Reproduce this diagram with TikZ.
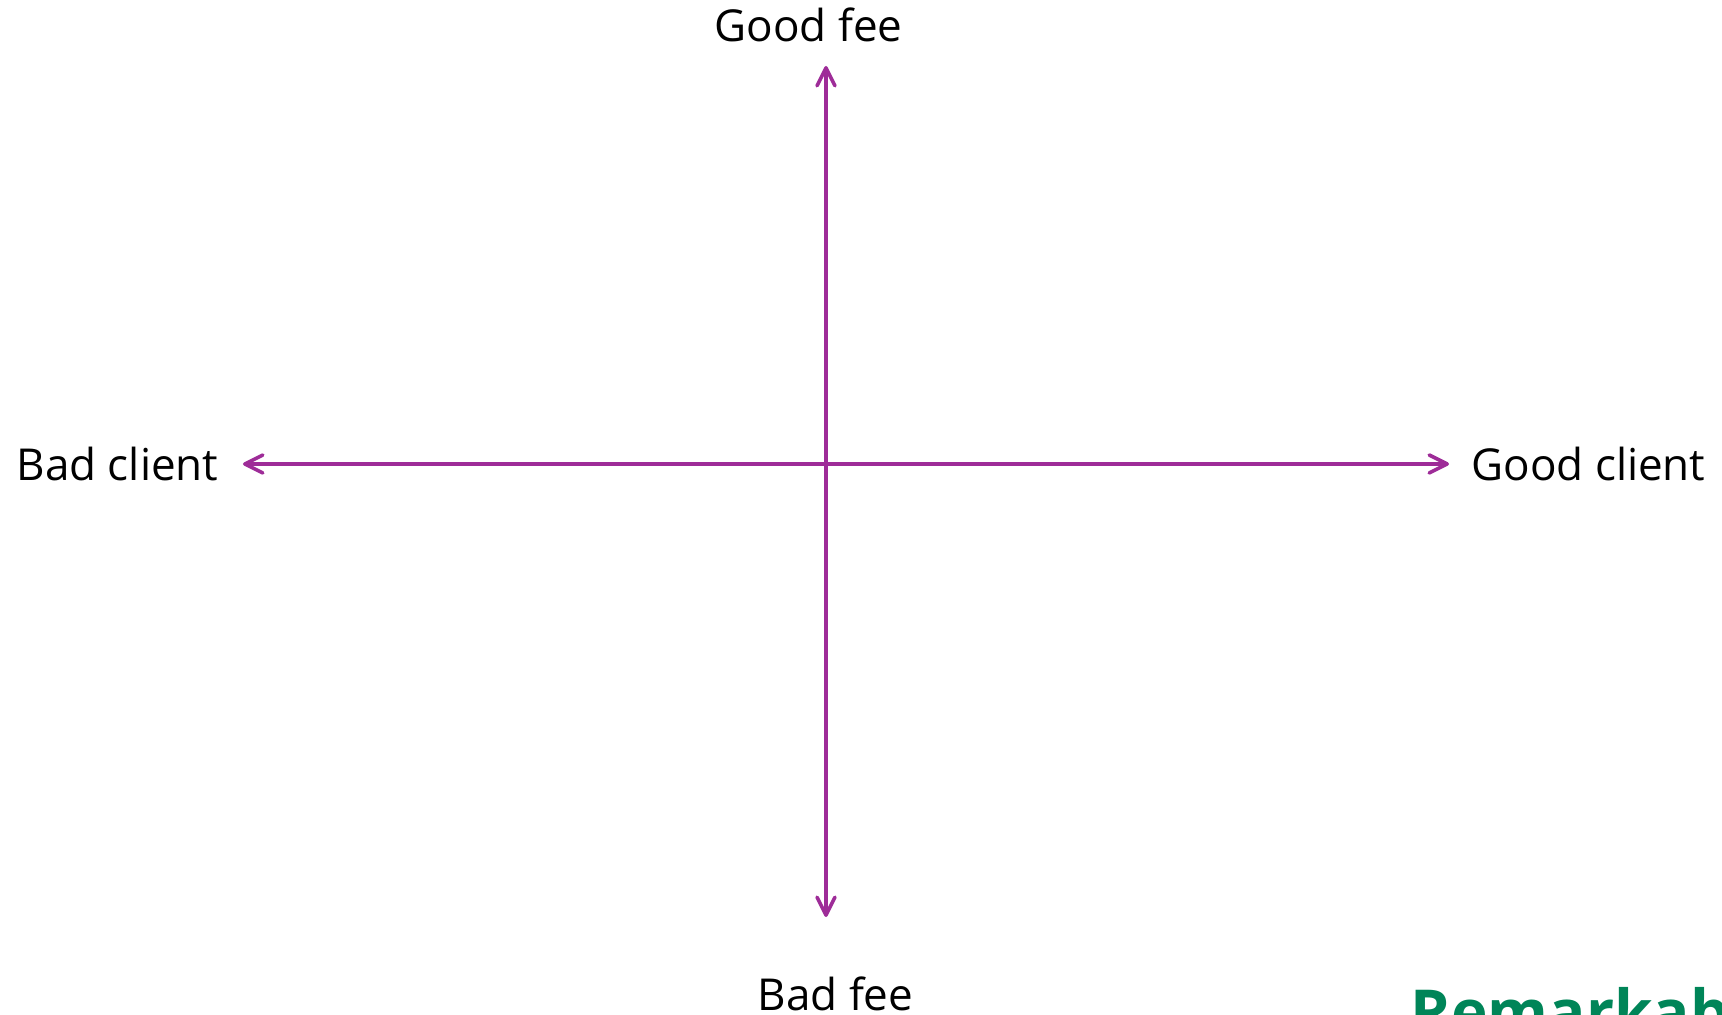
\documentclass[tikz,border=0pt]{standalone}
\usepackage{fontspec}
\setmainfont{Open Sans}
\usepackage{tikz}
\usetikzlibrary{arrows.meta, positioning}
\definecolor{axisPurple}{RGB}{158, 44, 152}
\definecolor{brandGreen}{RGB}{0, 133, 88}
\tikzset{
    quadAxis/.style={line width=1.8pt, axisPurple,
        {Straight Barb[length=9pt, width=9pt, line cap=round, line join=round]}-{Straight Barb[length=9pt, width=9pt, line cap=round, line join=round]}},
    axisLabel/.style={font=\fontsize{22}{26}\selectfont, text=black, inner sep=0pt, anchor=base},
    brandMark/.style={font=\fontsize{31}{36}\selectfont\bfseries, text=brandGreen, inner sep=0pt, anchor=base west},
}

\begin{document}
\begin{tikzpicture}[x=0.5pt, y=0.5pt]

    % FRAME
    \useasboundingbox (-826,-551) rectangle (896,464);

    % AXIS ENDS
    \coordinate (origin) at (0,0);
    \coordinate (feeTop) at (0,398);
    \coordinate (feeBottom) at (0,-453);
    \coordinate (clientLeft) at (-583,0);
    \coordinate (clientRight) at (623,0);

    % LABELS
    \node[axisLabel] (goodFee) at (-17.5,422) {Good fee};
    \node[axisLabel] (badFee) at (9.5,-546) {Bad fee};
    \node[axisLabel] (badClient) at (-708.5,-17) {Bad client};
    \node[axisLabel] (goodClient) at (762.5,-17) {Good client};

    % AXES
    \draw[quadAxis] (feeBottom) -- (feeTop);
    \draw[quadAxis] (clientLeft) -- (clientRight);

    % LOGO (cut by the frame)
    \begin{scope}
        \clip (-826,-551) rectangle (896,464);
        \node[brandMark] (logo) at (584,-570) {Remarkable};
    \end{scope}

\end{tikzpicture}
\end{document}
